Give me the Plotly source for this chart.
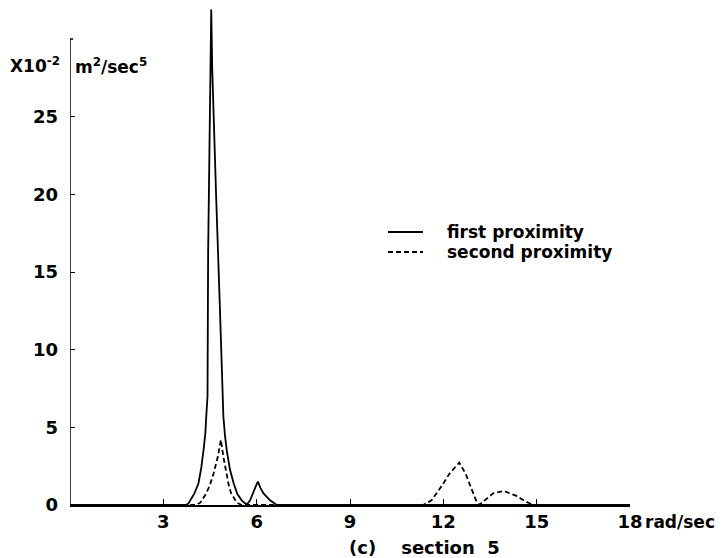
import plotly.graph_objects as go

# frequency (rad/sec) and spectral values (x10^-2 m^2/sec^5)
first_x = [0, 3.0, 3.7, 3.8, 3.87, 4.0, 4.13, 4.22, 4.29, 4.35, 4.38, 4.42, 4.44, 4.47, 4.51, 4.54,
           4.57, 4.63, 4.70, 4.81, 4.89, 4.93, 4.98, 5.04, 5.14, 5.26, 5.38, 5.52, 5.62, 5.69,
           5.79, 5.90, 5.97, 6.04, 6.12, 6.22, 6.43, 6.65, 9.0, 18]
first_y = [0, 0, 0, 0.08, 0.3, 0.75, 1.4, 2.4, 3.5, 4.6, 5.7, 7.0, 16.2, 22.0, 28.2, 31.9,
           28.2, 24.0, 19.7, 13.2, 7.0, 5.7, 4.5, 3.5, 2.3, 1.4, 0.7, 0.3, 0.12, 0.05,
           0.3, 0.9, 1.2, 1.5, 1.1, 0.75, 0.3, 0.0, 0, 0]

second_x = [0, 4.05, 4.19, 4.38, 4.5, 4.61, 4.75, 4.85, 4.93, 5.02, 5.1, 5.18, 5.36, 5.52,
            11.35, 11.62, 11.94, 12.19, 12.51, 12.72, 12.88, 13.05, 13.15, 13.34, 13.6, 13.95,
            14.33, 14.67, 14.89, 18]
second_y = [0, 0, 0.15, 0.75, 1.3, 2.0, 3.1, 4.2, 3.1, 2.0, 1.3, 0.75, 0.15, 0,
            0, 0.3, 1.2, 2.0, 2.73, 2.0, 1.2, 0.3, 0, 0.3, 0.75, 0.9,
            0.6, 0.2, 0, 0]

series_names = ["first proximity", "second proximity"]

x_ticks = [3, 6, 9, 12, 15, 18]
x_ticktext = ["3", "6", "9", "12", "15", "18"]
y_ticks = [0, 5, 10, 15, 20, 25]
y_ticktext = ["0", "5", "10", "15", "20", "25"]

FONT = dict(family="DejaVu Sans", size=17, color="black", weight="bold")
TICKFONT = dict(family="DejaVu Sans", size=18, color="black", weight="bold")
DASH = "5px,3px"

# the page body adds an 8px offset; plot area spans window px x 70..630, y 8..505
def px_x(px):
    return (px - 70) / 560.0

def px_y(py):
    return (505 - py) / 497.0

fig = go.Figure()
fig.add_trace(go.Scatter(x=first_x, y=first_y, mode="lines", name=series_names[0],
                         line=dict(color="black", width=1.8), showlegend=False))
fig.add_trace(go.Scatter(x=second_x, y=second_y, mode="lines", name=series_names[1],
                         line=dict(color="black", width=1.8, dash=DASH), showlegend=False))

shapes = [
    dict(type="line", xref="x", yref="y", x0=0, x1=0, y0=0, y1=30,
         line=dict(color="black", width=1.5)),
    dict(type="line", xref="x", yref="y", x0=0, x1=0.1, y0=30, y1=30,
         line=dict(color="black", width=1.5)),
    # legend samples
    dict(type="line", xref="paper", yref="paper", x0=px_x(388), x1=px_x(423),
         y0=px_y(232), y1=px_y(232), line=dict(color="black", width=1.8)),
    dict(type="line", xref="paper", yref="paper", x0=px_x(388), x1=px_x(423),
         y0=px_y(252), y1=px_y(252), line=dict(color="black", width=1.8, dash=DASH)),
]

annotations = [
    dict(text="X10<sup>-2</sup>", xref="paper", yref="paper", x=px_x(62), y=px_y(65),
         xanchor="right", yanchor="middle", showarrow=False),
    dict(text="m<sup>2</sup>/sec<sup>5</sup>", xref="paper", yref="paper", x=px_x(73), y=px_y(66),
         xanchor="left", yanchor="middle", showarrow=False),
    dict(text="rad/sec", xref="paper", yref="paper", x=px_x(643), y=px_y(522),
         xanchor="left", yanchor="middle", showarrow=False),
    dict(text="(c)    section  5", xref="paper", yref="paper", x=px_x(424), y=px_y(547),
         xanchor="center", yanchor="middle", showarrow=False, font=TICKFONT),
    dict(text=series_names[0], xref="paper", yref="paper", x=px_x(445), y=px_y(232),
         xanchor="left", yanchor="middle", showarrow=False),
    dict(text=series_names[1], xref="paper", yref="paper", x=px_x(445), y=px_y(252),
         xanchor="left", yanchor="middle", showarrow=False),
]

fig.update_layout(
    width=716, height=550,
    margin=dict(l=62, r=94, t=0, b=53),
    paper_bgcolor="white", plot_bgcolor="white",
    font=FONT,
    showlegend=False,
    xaxis=dict(range=[0, 18], showgrid=False, zeroline=False, showline=True,
               linecolor="black", linewidth=1.5, ticks="inside", ticklen=6,
               tickwidth=1.2, tickcolor="black", tickvals=x_ticks, ticktext=x_ticktext,
               tickfont=TICKFONT, automargin=False),
    yaxis=dict(range=[0, 32.0], showgrid=False, zeroline=False, showline=False,
               ticks="inside", ticklen=5, tickwidth=1.2, tickcolor="black",
               tickvals=y_ticks, ticktext=y_ticktext, ticklabelstandoff=11,
               tickfont=TICKFONT, automargin=False),
    shapes=shapes,
    annotations=annotations,
)

fig.write_html("out.html")
